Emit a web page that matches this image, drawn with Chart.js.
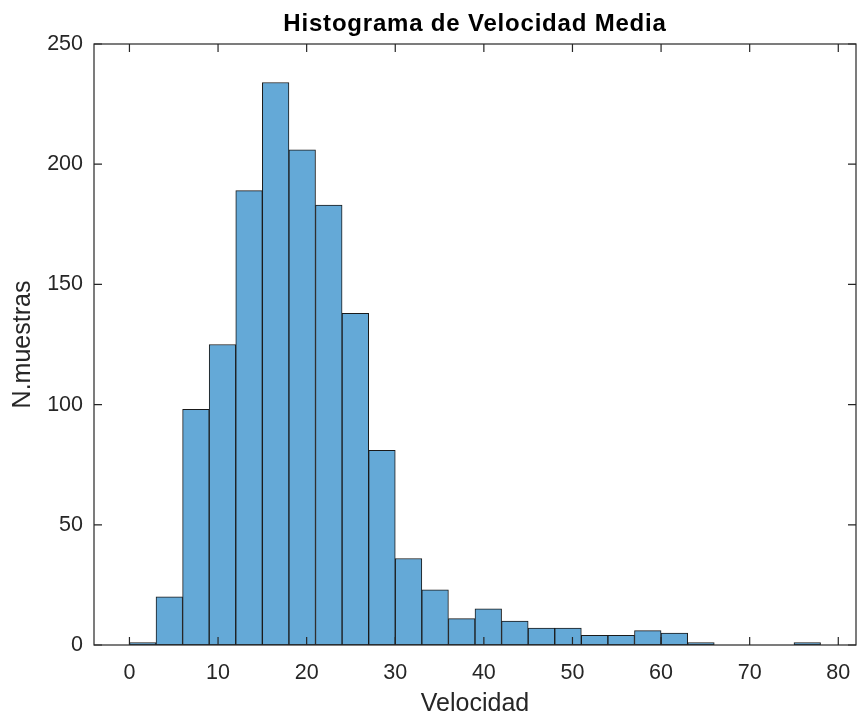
<!DOCTYPE html>
<html>
<head>
<meta charset="utf-8">
<title>Histograma de Velocidad Media</title>
<script src="https://cdn.jsdelivr.net/npm/chart.js@4.4.1/dist/chart.umd.min.js"></script>
<style>
  html, body { margin: 0; padding: 0; background: #fff; }
  #wrap { width: 858px; height: 717px; }
</style>
</head>
<body>
<div id="wrap"><canvas id="hist"></canvas></div>
<script>
// bin edges (Velocidad), 26 bins of width 3
const binEdges = [0, 3, 6, 9, 12, 15, 18, 21, 24, 27, 30, 33, 36, 39, 42, 45, 48, 51, 54, 57, 60, 63, 66, 69, 72, 75, 78]
// N.muestras per bin
const counts = [1, 20, 98, 125, 189, 234, 206, 183, 138, 81, 36, 23, 11, 15, 10, 7, 7, 4, 4, 6, 5, 1, 0, 0, 0, 1]

const xTicks = [0, 10, 20, 30, 40, 50, 60, 70, 80]
const yTicks = [0, 50, 100, 150, 200, 250]

const FONT = "'Liberation Sans', Arial, Helvetica, sans-serif"
const AXIS_COLOR = "#262626"

const points = counts.map((c, i) => ({ x: (binEdges[i] + binEdges[i + 1]) / 2, y: c }))

// matlab style box with inward ticks + title
const boxPlugin = {
  id: "box",
  afterDraw(chart) {
    const { ctx, chartArea: a, scales } = chart
    const tl = 8
    ctx.save()
    ctx.strokeStyle = AXIS_COLOR
    ctx.lineWidth = 1.2
    ctx.strokeRect(a.left, a.top, a.right - a.left, a.bottom - a.top)
    ctx.beginPath()
    xTicks.forEach((v) => {
      const px = scales.x.getPixelForValue(v)
      ctx.moveTo(px, a.bottom)
      ctx.lineTo(px, a.bottom - tl)
      ctx.moveTo(px, a.top)
      ctx.lineTo(px, a.top + tl)
    })
    yTicks.forEach((v) => {
      const py = scales.y.getPixelForValue(v)
      ctx.moveTo(a.left, py)
      ctx.lineTo(a.left + tl, py)
      ctx.moveTo(a.right, py)
      ctx.lineTo(a.right - tl, py)
    })
    ctx.stroke()

    ctx.fillStyle = "#000"
    ctx.font = "bold 24px " + FONT
    ctx.letterSpacing = "0.8px"
    ctx.textAlign = "center"
    ctx.textBaseline = "middle"
    ctx.fillText("Histograma de Velocidad Media", (a.left + a.right) / 2, 24)
    ctx.restore()
  },
}

const config = {
  type: "bar",
  data: {
    datasets: [
      {
        label: "N.muestras",
        data: points,
        backgroundColor: "rgb(100, 169, 215)",
        borderColor: "#1a1a1a",
        borderWidth: 1,
        borderSkipped: false,
        barPercentage: 1,
        categoryPercentage: 1,
      },
    ],
  },
  options: {
    responsive: true,
    maintainAspectRatio: false,
    animation: false,
    layout: {
      padding: { top: 44, right: 2, left: 0, bottom: 0 },
    },
    plugins: {
      legend: { display: false },
      tooltip: { enabled: false },
    },
    scales: {
      x: {
        type: "linear",
        min: -4,
        max: 82,
        offset: false,
        grid: { display: false, drawTicks: false },
        border: { display: false },
        afterBuildTicks: (scale) => {
          scale.ticks = xTicks.map((v) => ({ value: v }))
        },
        afterFit: (scale) => {
          scale.height = 72
          scale.paddingLeft = 0
          scale.paddingRight = 0
        },
        ticks: {
          color: AXIS_COLOR,
          padding: 15,
          maxRotation: 0,
          font: { family: FONT, size: 21.5 },
        },
        title: {
          display: true,
          text: "Velocidad",
          color: AXIS_COLOR,
          padding: { top: 0, bottom: -2 },
          font: { family: FONT, size: 25 },
        },
      },
      y: {
        min: 0,
        max: 250,
        grid: { display: false, drawTicks: false },
        border: { display: false },
        afterBuildTicks: (scale) => {
          scale.ticks = yTicks.map((v) => ({ value: v }))
        },
        afterFit: (scale) => {
          scale.width = 94
          scale.paddingTop = 0
          scale.paddingBottom = 0
        },
        ticks: {
          color: AXIS_COLOR,
          padding: 11,
          font: { family: FONT, size: 21.5 },
        },
        title: {
          display: true,
          text: "N.muestras",
          color: AXIS_COLOR,
          padding: { top: 8, bottom: 0 },
          font: { family: FONT, size: 25 },
        },
      },
    },
  },
  plugins: [boxPlugin],
}

const histChart = new Chart(document.getElementById("hist"), config)
</script>
</body>
</html>
